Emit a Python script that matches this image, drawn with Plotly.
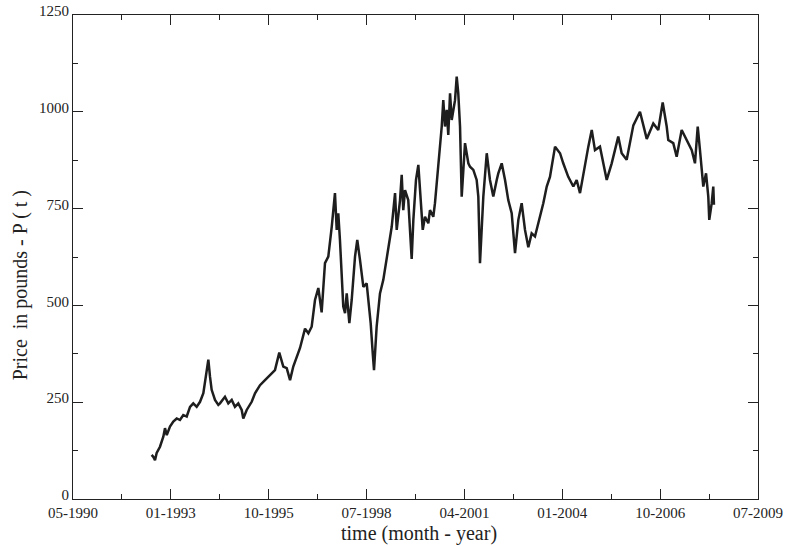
import plotly.graph_objects as go

# time axis: days counted from 1 May 1990
days = [804, 823, 838, 855, 889, 923, 940, 958, 991, 1025, 1060, 1093, 1127, 1162, 1196, 1229,
        1264, 1298, 1332, 1349, 1366, 1383, 1400, 1417, 1451, 1485, 1502, 1553, 1587, 1622,
        1655, 1689, 1724, 1740, 1775, 1826, 1860, 1911, 1962, 2013, 2064, 2108, 2149, 2184,
        2218, 2251, 2302, 2320, 2371, 2405, 2439, 2473, 2507, 2541, 2575, 2609, 2644, 2660,
        2677, 2695, 2711, 2728, 2746, 2762, 2780, 2797, 2824, 2848, 2882, 2905, 2933, 2967,
        3001, 3018, 3042, 3063, 3076, 3103, 3137, 3171, 3222, 3257, 3291, 3308, 3342, 3359,
        3375, 3393, 3426, 3461, 3478, 3505, 3529, 3546, 3574, 3597, 3631, 3648, 3682, 3699,
        3733, 3768, 3784, 3801, 3819, 3835, 3853, 3870, 3904, 3921, 3937, 3955, 3972, 3988,
        4006, 4040, 4057, 4091, 4125, 4142, 4159, 4193, 4228, 4261, 4295, 4330, 4346, 4381,
        4415, 4448, 4483, 4517, 4551, 4585, 4619, 4653, 4687, 4721, 4772, 4806, 4841, 4874,
        4926, 4977, 5010, 5061, 5113, 5147, 5181, 5232, 5266, 5301, 5334, 5385, 5454, 5505,
        5572, 5607, 5658, 5726, 5794, 5863, 5930, 5981, 6026, 6067, 6083, 6134, 6169, 6220,
        6271, 6323, 6356, 6384, 6407, 6425, 6441, 6469, 6492, 6502, 6527, 6543, 6550]

price = [114, 108, 100, 119, 135, 161, 183, 165, 187, 200, 208, 204, 217, 213, 238, 247,
         238, 251, 273, 307, 333, 360, 316, 282, 256, 243, 247, 264, 247, 256,
         238, 247, 230, 208, 230, 251, 273, 294, 307, 320, 333, 378, 342, 338,
         307, 342, 376, 390, 440, 428, 445, 514, 545, 482, 609, 626, 703, 738,
         790, 695, 738, 669, 583, 497, 480, 531, 454, 514, 626, 669, 617, 548,
         557, 514, 454, 376, 333, 445, 531, 566, 643, 703, 790, 695, 772, 837,
         746, 798, 772, 620, 721, 824, 863, 807, 695, 729, 712, 746, 729, 764,
         858, 962, 1030, 962, 1005, 940, 1048, 979, 1030, 1091, 1048, 962, 781, 850,
         919, 867, 858, 850, 824, 781, 609, 781, 893, 824, 781, 824, 841, 867,
         824, 772, 738, 635, 721, 764, 695, 650, 686, 678, 729, 764, 807, 832,
         910, 893, 867, 832, 807, 824, 790, 867, 910, 953, 901, 910, 824, 867,
         936, 893, 876, 965, 1000, 930, 970, 953, 1024, 962, 927, 919, 884, 953,
         927, 901, 867, 962, 901, 858, 807, 841, 781, 721, 764, 807, 760]

x_tickvals = [0, 1000, 2000, 3000, 4000, 5000, 6000, 7000]
x_ticktext = ["05-1990", "01-1993", "10-1995", "07-1998", "04-2001", "01-2004", "10-2006", "07-2009"]
y_tickvals = [0, 250, 500, 750, 1000, 1250]

font = "Liberation Serif, Times New Roman, serif"

fig = go.Figure()
fig.add_trace(go.Scatter(x=days, y=price, mode="lines",
                         line=dict(color="#1e1e1e", width=2.5), showlegend=False))

axis_common = dict(showgrid=False, zeroline=False, showline=True, linecolor="#222",
                   linewidth=1, ticks="inside", ticklen=10, tickcolor="#222", mirror="ticks",
                   automargin=False, tickfont=dict(family=font, size=15, color="#222"))

fig.update_layout(
    width=786, height=546,
    margin=dict(l=73, r=28, t=15, b=47),
    paper_bgcolor="white", plot_bgcolor="white",
    xaxis=dict(range=[0, 7000], tickmode="array", tickvals=x_tickvals, ticktext=x_ticktext,
               ticklabelstandoff=0,
               minor=dict(ticks="inside", ticklen=5, tick0=500, dtick=1000, tickcolor="#222"),
               **axis_common),
    yaxis=dict(range=[0, 1250], tickmode="array", tickvals=y_tickvals, ticklabelshift=-4,
               minor=dict(ticks="inside", ticklen=5, tick0=125, dtick=250, tickcolor="#222"),
               **axis_common),
    annotations=[
        dict(text="time (month - year)", xref="paper", yref="paper", x=0.505, y=-0.0965,
             xanchor="center", yanchor="bottom", showarrow=False, borderpad=0,
             font=dict(family=font, size=20, color="#222")),
        dict(text="Price  in pounds - P ( t )", xref="paper", yref="paper", x=-0.077, y=0.442,
             xanchor="center", yanchor="middle", textangle=-90, showarrow=False,
             font=dict(family=font, size=20, color="#222")),
    ],
)

fig.write_html("out.html")
